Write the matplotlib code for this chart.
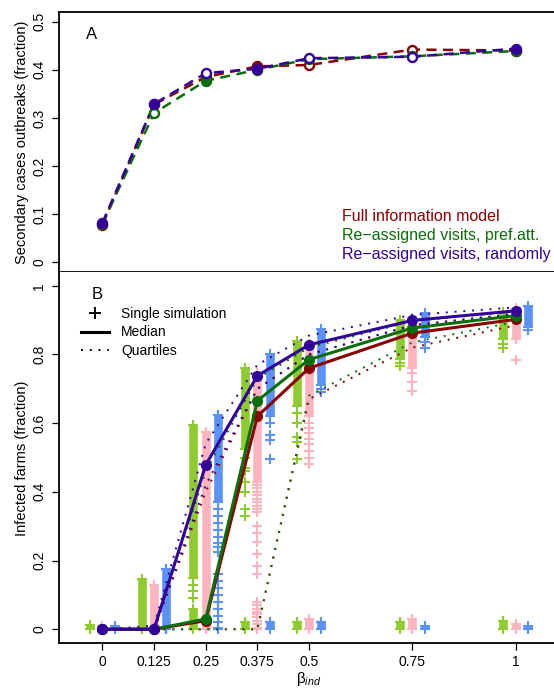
import numpy as np
import matplotlib
matplotlib.use('Agg')
import matplotlib.pyplot as plt
from matplotlib.lines import Line2D

plt.rcParams['font.family'] = ['Liberation Sans', 'DejaVu Sans']
plt.rcParams['mathtext.fontset'] = 'custom'
plt.rcParams['mathtext.rm'] = 'Liberation Sans'
plt.rcParams['mathtext.it'] = 'Liberation Sans:italic'

beta = [0, 0.125, 0.25, 0.375, 0.5, 0.75, 1]
beta_labels = ['0', '0.125', '0.25', '0.375', '0.5', '0.75', '1']

# Panel A - secondary cases outbreaks
sec_full = [0.078, 0.328, 0.385, 0.407, 0.41, 0.442, 0.44]
sec_pref = [0.08, 0.31, 0.377, 0.40, 0.422, 0.428, 0.439]
sec_rand = [0.082, 0.329, 0.393, 0.402, 0.424, 0.427, 0.444]
filled_full = [True, True, False, True, False, False, True]
filled_pref = [True, False, True, True, True, False, True]
filled_rand = [True, True, False, True, False, False, True]

# Panel B - infected farms, median and quartiles
med_full = [0, 0, 0.025, 0.62, 0.76, 0.862, 0.902]
q1_full = [0, 0, 0, 0, 0.67, 0.82, 0.885]
q3_full = [0, 0, 0.40, 0.70, 0.80, 0.885, 0.918]
med_pref = [0, 0, 0.03, 0.665, 0.785, 0.877, 0.913]
q1_pref = [0, 0, 0, 0, 0.68, 0.835, 0.895]
q3_pref = [0, 0, 0.46, 0.73, 0.82, 0.897, 0.925]
med_rand = [0, 0, 0.478, 0.738, 0.828, 0.899, 0.927]
q1_rand = [0, 0, 0.42, 0.70, 0.80, 0.885, 0.918]
q3_rand = [0, 0.01, 0.54, 0.77, 0.855, 0.915, 0.937]

# single simulations: dense run (lo..hi), run near zero (0..top), loose points
nan = np.nan
pref_run_lo = [nan, 0.0, 0.15, 0.525, 0.65, 0.787, 0.845]
pref_run_hi = [nan, 0.145, 0.595, 0.76, 0.84, 0.90, 0.925]
pref_zero_hi = [0.012, 0.0, 0.06, 0.02, 0.02, 0.02, 0.025]
pref_loose = [[], [], [0.13, 0.11, 0.09],
              [0.5, 0.47, 0.46, 0.43, 0.40, 0.35, 0.33],
              [0.63, 0.60, 0.56, 0.545, 0.495], [0.775, 0.765], [0.83, 0.82]]

full_run_lo = [nan, 0.0, 0.0, 0.43, 0.62, 0.76, 0.845]
full_run_hi = [nan, 0.13, 0.575, 0.745, 0.83, 0.905, 0.935]
full_zero_hi = [0.01, 0.0, 0.0, 0.0, 0.03, 0.03, 0.015]
full_loose = [[], [], [],
              [0.42, 0.41, 0.40, 0.39, 0.38, 0.37, 0.36, 0.35, 0.34, 0.30, 0.28,
               0.255, 0.22, 0.185, 0.16, 0.08, 0.07, 0.06, 0.05, 0.045, 0.035,
               0.025, 0.015, 0.005],
              [0.60, 0.585, 0.57, 0.555, 0.54, 0.52, 0.50, 0.48],
              [0.745, 0.72, 0.695], [0.785]]

rand_run_lo = [nan, 0.0, 0.37, 0.62, 0.71, 0.85, 0.88]
rand_run_hi = [nan, 0.175, 0.625, 0.80, 0.873, 0.92, 0.94]
rand_zero_hi = [0.01, 0.0, 0.0, 0.02, 0.02, 0.01, 0.01]
rand_loose = [[], [],
              [0.35, 0.33, 0.31, 0.29, 0.27, 0.25, 0.24, 0.225, 0.16, 0.14, 0.12,
               0.10, 0.08, 0.06, 0.04, 0.02, 0.005],
              [0.60, 0.565, 0.55, 0.495], [0.70, 0.69], [0.835, 0.82], [0.87]]

c_full, c_pref, c_rand = '#8B0000', '#0A6E0A', '#34009A'
s_full, s_pref, s_rand = '#FFB3BE', '#8DCB2F', '#5B92F7'
offset = 0.03


def draw_sims(ax, xs, lo, hi, ztop, loose, color):
    for x, a, b, z, pts in zip(xs, lo, hi, ztop, loose):
        ys = [0, z] + list(pts)
        if not np.isnan(a):
            ax.vlines(x, a, b, color=color, lw=6.2, zorder=2)
            ys += [a, b]
        if z > 0:
            ax.vlines(x, 0, z, color=color, lw=6.2, zorder=2)
        ax.plot([x] * len(ys), ys, ls='none', marker='+', ms=6.6, mew=1.5,
                color=color, zorder=2)


fig = plt.figure(figsize=(5.54, 6.89), dpi=100)
axA = fig.add_axes([59 / 554, 1 - 272 / 689, 500 / 554, 260 / 689])
axB = fig.add_axes([59 / 554, 1 - 643 / 689, 500 / 554, 371 / 689])

# ---- panel A
for vals, filled, col in [(sec_full, filled_full, c_full),
                          (sec_pref, filled_pref, c_pref),
                          (sec_rand, filled_rand, c_rand)]:
    axA.plot(beta, vals, color=col, lw=1.8, ls=(0, (4, 2.6)), zorder=3)
    for x, y, f in zip(beta, vals, filled):
        axA.plot(x, y, 'o', ms=6.5, mew=1.7, color=col,
                 mfc=col if f else 'white', zorder=4)

axA.set_xlim(-0.105, 1.105)
axA.set_ylim(-0.02, 0.52)
axA.set_xticks([])
axA.set_yticks([0, 0.1, 0.2, 0.3, 0.4, 0.5])
axA.set_yticklabels(['0', '0.1', '0.2', '0.3', '0.4', '0.5'], rotation=90, va='center')
axA.tick_params(axis='y', length=5, width=0.9, labelsize=10, pad=4)
for sp in axA.spines.values():
    sp.set_linewidth(1.3)
axA.text(0.066, 0.915, 'A', transform=axA.transAxes, fontsize=12,
         ha='center', va='center')
for yy, txt, col in [(0.215, 'Full information model', c_full),
                     (0.142, 'Re\u2212assigned visits, pref.att.', c_pref),
                     (0.069, 'Re\u2212assigned visits, randomly', c_rand)]:
    axA.text(0.566, yy, txt, color=col, transform=axA.transAxes,
             fontsize=11.5, ha='left', va='center')

# ---- panel B
bx = np.array(beta)
draw_sims(axB, bx - offset, pref_run_lo, pref_run_hi, pref_zero_hi, pref_loose, s_pref)
draw_sims(axB, bx, full_run_lo, full_run_hi, full_zero_hi, full_loose, s_full)
draw_sims(axB, bx + offset, rand_run_lo, rand_run_hi, rand_zero_hi, rand_loose, s_rand)

dots = (0, (1, 3.5))
for med, q1, q3, col in [(med_full, q1_full, q3_full, c_full),
                         (med_pref, q1_pref, q3_pref, c_pref),
                         (med_rand, q1_rand, q3_rand, c_rand)]:
    axB.plot(beta, q1, color=col, lw=1.4, ls=dots, zorder=3)
    axB.plot(beta, q3, color=col, lw=1.4, ls=dots, zorder=3)
for med, col in [(med_full, c_full), (med_pref, c_pref), (med_rand, c_rand)]:
    axB.plot(beta, med, color=col, lw=2.2, marker='o', ms=7, zorder=4)

axB.set_xlim(-0.105, 1.105)
axB.set_ylim(-0.04, 1.04)
axB.set_xticks(beta)
axB.set_xticklabels(beta_labels)
axB.set_yticks([0, 0.2, 0.4, 0.6, 0.8, 1])
axB.set_yticklabels(['0', '0.2', '0.4', '0.6', '0.8', '1'], rotation=90, va='center')
axB.tick_params(axis='both', length=5, width=0.9, labelsize=10, pad=4)
axB.spines['top'].set_visible(False)
axB.spines['right'].set_visible(False)
for sp in ['left', 'bottom']:
    axB.spines[sp].set_linewidth(1.3)
axB.text(0.076, 0.94, 'B', transform=axB.transAxes, fontsize=12,
         ha='center', va='center')

handles = [Line2D([], [], color='k', marker='+', ls='none', ms=9, mew=1.4),
           Line2D([], [], color='k', lw=2.2),
           Line2D([], [], color='k', lw=1.4, ls=dots)]
axB.legend(handles, ['Single simulation', 'Median', 'Quartiles'],
           loc='upper left', bbox_to_anchor=(0.044, 0.905), frameon=False,
           fontsize=10, handlelength=2.0, handletextpad=0.9, labelspacing=0.3,
           borderpad=0, borderaxespad=0)

fig.text(22 / 554, 1 - 142 / 689, 'Secondary cases outbreaks (fraction)',
         rotation=90, ha='center', va='center', fontsize=10.5)
fig.text(22 / 554, 1 - 458 / 689, 'Infected farms (fraction)',
         rotation=90, ha='center', va='center', fontsize=10.5)
fig.text(309 / 554, 1 - 679 / 689, '\u03b2$_{ind}$', ha='center', va='center',
         fontsize=11)

fig.savefig('out.png', dpi=100)
